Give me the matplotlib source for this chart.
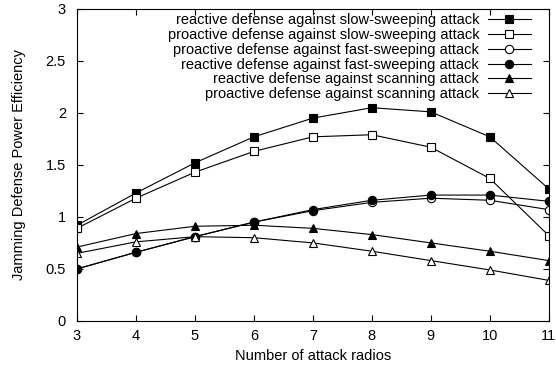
import matplotlib.pyplot as plt

plt.rcParams['font.family'] = ['Liberation Sans', 'DejaVu Sans']

radios = [3, 4, 5, 6, 7, 8, 9, 10, 11]
reactive_slow = [0.92, 1.23, 1.52, 1.77, 1.95, 2.05, 2.01, 1.77, 1.27]
proactive_slow = [0.89, 1.18, 1.43, 1.63, 1.77, 1.79, 1.67, 1.37, 0.82]
proactive_fast = [0.50, 0.66, 0.81, 0.95, 1.06, 1.14, 1.18, 1.16, 1.07]
reactive_fast = [0.50, 0.66, 0.81, 0.95, 1.07, 1.16, 1.21, 1.21, 1.15]
reactive_scan = [0.71, 0.84, 0.91, 0.92, 0.89, 0.83, 0.75, 0.67, 0.58]
proactive_scan = [0.65, 0.76, 0.81, 0.80, 0.75, 0.67, 0.58, 0.49, 0.39]

yticks = [0, 0.5, 1, 1.5, 2, 2.5, 3]
ytick_labels = ['0', '0.5', '1', '1.5', '2', '2.5', '3']

series = [
    ('reactive defense against slow-sweeping attack', reactive_slow, 's', 'black'),
    ('proactive defense against slow-sweeping attack', proactive_slow, 's', 'white'),
    ('proactive defense against fast-sweeping attack', proactive_fast, 'o', 'white'),
    ('reactive defense against fast-sweeping attack', reactive_fast, 'o', 'black'),
    ('reactive defense against scanning attack', reactive_scan, '^', 'black'),
    ('proactive defense against scanning attack', proactive_scan, '^', 'white'),
]

fs = 10.5

fig = plt.figure(figsize=(5.56, 3.71), dpi=100)
ax = fig.add_axes([0.1385, 0.135, 0.8485, 0.841])

for label, vals, m, fc in series:
    ms = 5.2 if m == '^' else 6
    ax.plot(radios, vals, color='black', lw=0.8, marker=m, markersize=ms,
            markerfacecolor=fc, markeredgecolor='black', markeredgewidth=0.8,
            label=label)

ax.set_xlim(3, 11)
ax.set_ylim(0, 3)
ax.set_xticks(radios)
ax.set_yticks(yticks)
ax.set_yticklabels(ytick_labels)
ax.tick_params(direction='in', top=True, right=True, labelsize=fs, length=4.5)
ax.tick_params(axis='x', pad=6)
ax.tick_params(axis='y', pad=8)
ax.set_xlabel('Number of attack radios', fontsize=fs, labelpad=4)
ax.set_ylabel('Jamming Defense Power Efficiency', fontsize=fs, labelpad=14)

ax.legend(loc='upper right', frameon=False, markerfirst=False, fontsize=fs,
          handlelength=2.95, labelspacing=0.06, borderaxespad=0, borderpad=0,
          handletextpad=0.6, bbox_to_anchor=(531 / 556, 1 - 13 / 371),
          bbox_transform=fig.transFigure)

fig.savefig('out.png', dpi=100)
